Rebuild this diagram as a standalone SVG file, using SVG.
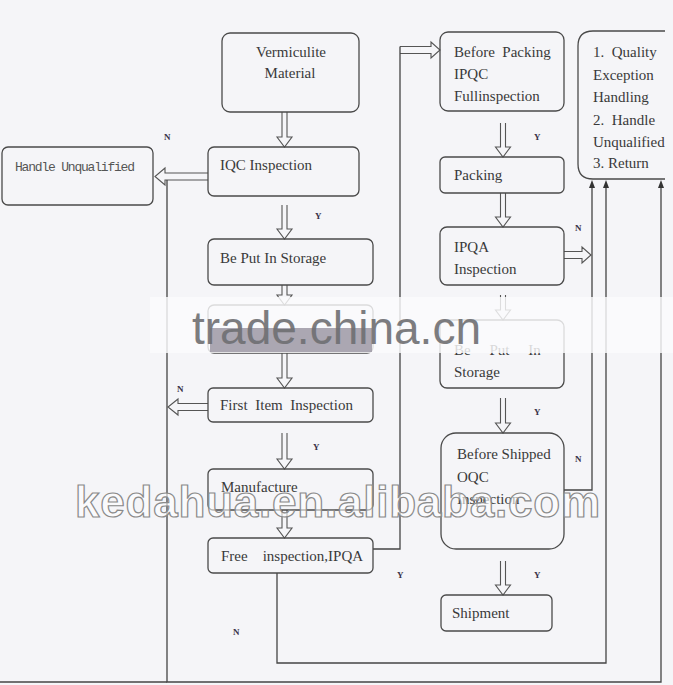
<svg xmlns="http://www.w3.org/2000/svg" width="673" height="685" viewBox="0 0 673 685">
<defs>
<style>
.box{fill:none;stroke:#4a4a4a;stroke-width:1.3}
.t{font-family:"Liberation Serif","Times New Roman",serif;font-size:15px;fill:#3a3a3a}
.mono{font-family:"Liberation Mono","Courier New",monospace;font-size:13px;fill:#555}
.lbl{font-family:"Liberation Serif","Times New Roman",serif;font-size:9px;font-weight:bold;fill:#3a3348}
.ln{fill:none;stroke:#444;stroke-width:1.3}
.arr{fill:none;stroke:#555;stroke-width:1.1}
.head{fill:#333}
</style>
<clipPath id="qclip"><rect x="0" y="0" width="665" height="685"/></clipPath>
</defs>
<rect x="0" y="0" width="673" height="685" fill="#f5f5f8"/>

<g id="connectors">
<!-- vertical double arrows, left column -->
<path class="arr" d="M282 112V137H277L284.5 147L292 137H287V112"/>
<path class="arr" d="M282 205V229H277L284.5 239L292 229H287V205"/>
<path class="arr" d="M282 285V295H277L284.5 305L292 295H287V285"/>
<path class="arr" d="M282 353V378H277L284.5 388L292 378H287V353"/>
<path class="arr" d="M282 433V459H277L284.5 469L292 459H287V433"/>
<path class="arr" d="M282 510V528H277L284.5 538L292 528H287V510"/>
<!-- vertical double arrows, right column -->
<path class="arr" d="M500.5 123V147H495.5L503 157L510.5 147H505.5V123"/>
<path class="arr" d="M500.5 193V217H495.5L503 227L510.5 217H505.5V193"/>
<path class="arr" d="M500.5 295V310H495.5L503 320L510.5 310H505.5V295"/>
<path class="arr" d="M500.5 398V423H495.5L503 433L510.5 423H505.5V398"/>
<path class="arr" d="M500.5 561V585H495.5L503 595L510.5 585H505.5V561"/>
<!-- horizontal double arrows -->
<path class="arr" d="M208 173H165V168L155 176.5L165 185V180H208"/>
<path class="arr" d="M208 403.5H178V399L168 407L178 415V410.5H208"/>
<path class="arr" d="M564 251.5H582V247L591 255L582 263V258.5H564"/>
<path class="arr" d="M400 46.5H431V42L440 50L431 58V53.5H400"/>
<!-- Free inspection Y -->
<polyline class="ln" points="373,549 400,549 400,46.5"/>
<!-- Before Shipped N -->
<polyline class="ln" points="564,490 592,490 592,186"/>
<path class="head" d="M592 180L589 188H595Z"/>
<!-- Free inspection N -->
<polyline class="ln" points="277,573 277,663 606,663 606,186"/>
<path class="head" d="M606 180L603 188H609Z"/>
<!-- left / bottom loop -->
<polyline class="ln" points="167,180 167,682 661,682 661,186"/>
<path class="head" d="M661 180L658 188H664Z"/>
<line class="ln" x1="0" y1="682" x2="167" y2="682"/>
</g>

<g id="n-vermiculite">
<rect class="box" x="222" y="33" width="137" height="79" rx="8"/>
<text class="t" x="291" y="57" text-anchor="middle">Vermiculite</text>
<text class="t" x="290" y="78" text-anchor="middle">Material</text>
</g>
<g id="n-iqc">
<rect class="box" x="208" y="147" width="151" height="49" rx="6"/>
<text class="t" x="220" y="170">IQC Inspection</text>
</g>
<g id="n-handle">
<rect class="box" x="2" y="147" width="151" height="58" rx="6"/>
<text class="mono" x="15" y="171" textLength="120">Handle Unqualified</text>
</g>
<g id="n-storage1">
<rect class="box" x="208" y="239" width="165" height="46" rx="6"/>
<text class="t" x="220" y="263">Be Put In Storage</text>
</g>
<g id="n-hidden">
<rect class="box" x="208" y="305" width="165" height="48" rx="6"/>
</g>
<g id="n-firstitem">
<rect class="box" x="208" y="388" width="165" height="34" rx="5"/>
<text class="t" x="220" y="410" textLength="133" xml:space="preserve">First  Item  Inspection</text>
</g>
<g id="n-manufacture">
<rect class="box" x="208" y="469" width="165" height="41" rx="5"/>
<text class="t" x="221" y="492">Manufacture</text>
</g>
<g id="n-free">
<rect class="box" x="208" y="538" width="165" height="35" rx="5"/>
<text class="t" x="221" y="561" xml:space="preserve">Free    inspection,IPQA</text>
</g>

<g id="n-beforepacking">
<rect class="box" x="440" y="32" width="124" height="79" rx="8"/>
<text class="t" x="454" y="57" xml:space="preserve">Before  Packing</text>
<text class="t" x="454" y="79">IPQC</text>
<text class="t" x="454" y="101">Fullinspection</text>
</g>
<g id="n-packing">
<rect class="box" x="440" y="157" width="124" height="36" rx="5"/>
<text class="t" x="454" y="180">Packing</text>
</g>
<g id="n-ipqa">
<rect class="box" x="440" y="227" width="124" height="58" rx="7"/>
<text class="t" x="454" y="252">IPQA</text>
<text class="t" x="454" y="274">Inspection</text>
</g>
<g id="n-storage2">
<rect class="box" x="440" y="320" width="124" height="68" rx="7"/>
<text class="t" x="454" y="355" xml:space="preserve">Be     Put     In</text>
<text class="t" x="454" y="377">Storage</text>
</g>
<g id="n-beforeshipped">
<rect class="box" x="441" y="433" width="123" height="116" rx="15"/>
<text class="t" x="457" y="459">Before Shipped</text>
<text class="t" x="457" y="482">OQC</text>
<text class="t" x="457" y="504">Inspection</text>
</g>
<g id="n-shipment">
<rect class="box" x="441" y="595" width="111" height="36" rx="5"/>
<text class="t" x="452" y="618">Shipment</text>
</g>
<g id="n-quality" clip-path="url(#qclip)">
<path class="box" d="M680 31H593Q578 31 578 46V164Q578 179 593 179H680"/>
<text class="t" x="593" y="57" xml:space="preserve">1.  Quality</text>
<text class="t" x="593" y="80">Exception</text>
<text class="t" x="593" y="102">Handling</text>
<text class="t" x="593" y="125" xml:space="preserve">2.  Handle</text>
<text class="t" x="593" y="147">Unqualified</text>
<text class="t" x="593" y="168">3. Return</text>
</g>

<g id="labels">
<text class="lbl" x="164" y="140">N</text>
<text class="lbl" x="315" y="219">Y</text>
<text class="lbl" x="177" y="392">N</text>
<text class="lbl" x="313" y="450">Y</text>
<text class="lbl" x="397" y="578">Y</text>
<text class="lbl" x="233" y="635">N</text>
<text class="lbl" x="534" y="140">Y</text>
<text class="lbl" x="575" y="231">N</text>
<text class="lbl" x="534" y="415">Y</text>
<text class="lbl" x="575" y="462">N</text>
<text class="lbl" x="534" y="578">Y</text>
</g>

<g id="watermarks">
<rect x="150" y="297" width="523" height="56" fill="#fbfbfd" opacity="0.82"/>
<rect x="210" y="328" width="162" height="24" fill="#9c98a4" opacity="0.85"/>
<text x="192" y="344" font-family="Liberation Sans, Arial, sans-serif" font-size="46" fill="#6f6f72" opacity="0.9">trade.china.cn</text>
<text x="75" y="517" font-family="Liberation Sans, Arial, sans-serif" font-size="44" font-weight="bold" textLength="525" fill="#ffffff" fill-opacity="0.6" stroke="#8a8a8a" stroke-width="1.2">kedahua.en.alibaba.com</text>
</g>
</svg>
